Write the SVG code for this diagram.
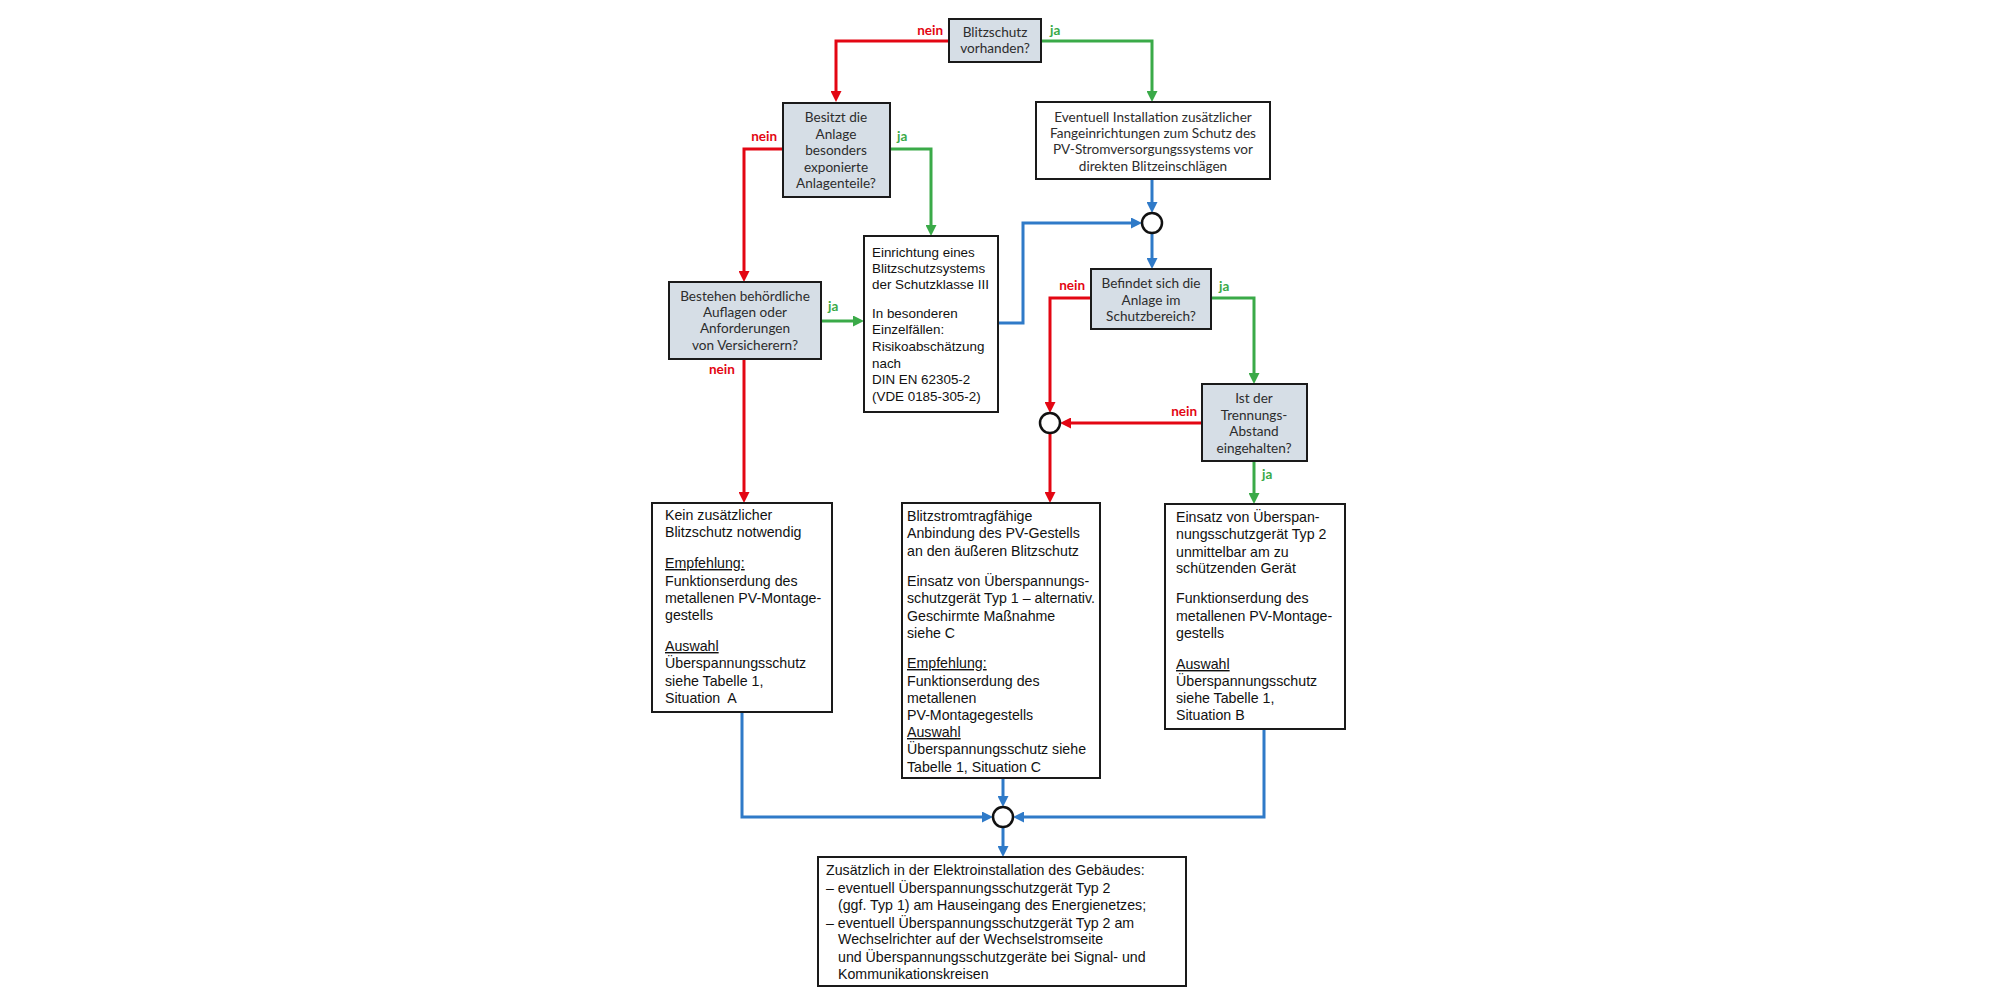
<svg xmlns="http://www.w3.org/2000/svg" width="2000" height="1000" viewBox="0 0 2000 1000">
<style>
.dec{fill:#d6dee6;stroke:#1a1a1a;stroke-width:2}
.box{fill:#ffffff;stroke:#1a1a1a;stroke-width:2}
.dt{font-family:Lato,"Open Sans",sans-serif;font-size:13.6px;fill:#2d2d2d;text-anchor:middle}
.at{font-family:"Liberation Sans",Arial,sans-serif;font-size:14.2px;fill:#111}
.sm{font-size:13.4px}
.u{text-decoration:underline}
.lr{font-family:Lato,"Open Sans",sans-serif;font-weight:bold;font-size:13.5px;fill:#e30613}
.lg{font-family:Lato,"Open Sans",sans-serif;font-weight:bold;font-size:13.5px;fill:#3aaa48}
.c{fill:none;stroke-width:3;stroke-linejoin:miter}
.r{stroke:#e30613}
.g{stroke:#3aaa48}
.b{stroke:#2f7ac8}
.j{fill:#fff;stroke:#111;stroke-width:2.5}
</style>
<defs>
<marker id="ar" markerUnits="userSpaceOnUse" markerWidth="11" markerHeight="11" refX="5" refY="5.5" orient="auto"><path d="M0,0 L11,5.5 L0,11 z" fill="#e30613"/></marker>
<marker id="ag" markerUnits="userSpaceOnUse" markerWidth="11" markerHeight="11" refX="5" refY="5.5" orient="auto"><path d="M0,0 L11,5.5 L0,11 z" fill="#3aaa48"/></marker>
<marker id="ab" markerUnits="userSpaceOnUse" markerWidth="11" markerHeight="11" refX="5" refY="5.5" orient="auto"><path d="M0,0 L11,5.5 L0,11 z" fill="#2f7ac8"/></marker>
</defs>
<rect width="2000" height="1000" fill="#fff"/>
<g id="connectors">
<path class="c r" d="M949,41 H836 V96" marker-end="url(#ar)"/>
<path class="c r" d="M783,149 H744 V276" marker-end="url(#ar)"/>
<path class="c r" d="M744,359 V497" marker-end="url(#ar)"/>
<path class="c r" d="M1091,298 H1050 V407" marker-end="url(#ar)"/>
<path class="c r" d="M1202,423 H1066" marker-end="url(#ar)"/>
<path class="c r" d="M1050,433 V497" marker-end="url(#ar)"/>
<path class="c g" d="M1041,41 H1152 V96" marker-end="url(#ag)"/>
<path class="c g" d="M890,149 H931 V230" marker-end="url(#ag)"/>
<path class="c g" d="M821,321 H858" marker-end="url(#ag)"/>
<path class="c g" d="M1211,298 H1254 V378" marker-end="url(#ag)"/>
<path class="c g" d="M1254,461 V498" marker-end="url(#ag)"/>
<path class="c b" d="M1152,179 V207" marker-end="url(#ab)"/>
<path class="c b" d="M998,323 H1023 V223 H1136" marker-end="url(#ab)"/>
<path class="c b" d="M1152,233 V263" marker-end="url(#ab)"/>
<path class="c b" d="M742,712 V817 H987" marker-end="url(#ab)"/>
<path class="c b" d="M1003,778 V801" marker-end="url(#ab)"/>
<path class="c b" d="M1264,729 V817 H1019" marker-end="url(#ab)"/>
<path class="c b" d="M1003,827 V851" marker-end="url(#ab)"/>
<text class="lr" x="943" y="35" text-anchor="end">nein</text>
<text class="lg" x="1050" y="35">ja</text>
<text class="lr" x="777" y="141" text-anchor="end">nein</text>
<text class="lg" x="897" y="141">ja</text>
<text class="lg" x="828" y="311">ja</text>
<text class="lr" x="709" y="374">nein</text>
<text class="lr" x="1085" y="290" text-anchor="end">nein</text>
<text class="lg" x="1219" y="291">ja</text>
<text class="lr" x="1197" y="416" text-anchor="end">nein</text>
<text class="lg" x="1262" y="479">ja</text>
</g>
<g id="j1"><circle class="j" cx="1152" cy="223" r="10"/></g>
<g id="j2"><circle class="j" cx="1050" cy="423" r="10"/></g>
<g id="j3"><circle class="j" cx="1003" cy="817" r="10"/></g>
<g id="n_blitzschutz">
<rect class="dec" x="949" y="19" width="92" height="43"/>
<text class="dt" x="995" y="37">Blitzschutz</text>
<text class="dt" x="995" y="53">vorhanden?</text>
</g>
<g id="n_besitzt">
<rect class="dec" x="783" y="103" width="107" height="94"/>
<text class="dt" x="836" y="122">Besitzt die</text>
<text class="dt" x="836" y="139">Anlage</text>
<text class="dt" x="836" y="155">besonders</text>
<text class="dt" x="836" y="172">exponierte</text>
<text class="dt" x="836" y="188">Anlagenteile?</text>
</g>
<g id="n_eventuell">
<rect class="box" x="1036" y="102" width="234" height="77"/>
<text class="dt" x="1153" y="122">Eventuell Installation zusätzlicher</text>
<text class="dt" x="1153" y="138">Fangeinrichtungen zum Schutz des</text>
<text class="dt" x="1153" y="154">PV-Stromversorgungssystems vor</text>
<text class="dt" x="1153" y="171">direkten Blitzeinschlägen</text>
</g>
<g id="n_bestehen">
<rect class="dec" x="669" y="282" width="152" height="77"/>
<text class="dt" x="745" y="301">Bestehen behördliche</text>
<text class="dt" x="745" y="317">Auflagen oder</text>
<text class="dt" x="745" y="333">Anforderungen</text>
<text class="dt" x="745" y="350">von Versicherern?</text>
</g>
<g id="n_einrichtung">
<rect class="box" x="864" y="236" width="134" height="176"/>
<text class="at sm" x="872" y="257">Einrichtung eines</text>
<text class="at sm" x="872" y="273">Blitzschutzsystems</text>
<text class="at sm" x="872" y="289">der Schutzklasse III</text>
<text class="at sm" x="872" y="318">In besonderen</text>
<text class="at sm" x="872" y="334">Einzelfällen:</text>
<text class="at sm" x="872" y="351">Risikoabschätzung</text>
<text class="at sm" x="872" y="368">nach</text>
<text class="at sm" x="872" y="384">DIN EN 62305-2</text>
<text class="at sm" x="872" y="401">(VDE 0185-305-2)</text>
</g>
<g id="n_befindet">
<rect class="dec" x="1091" y="269" width="120" height="60"/>
<text class="dt" x="1151" y="288">Befindet sich die</text>
<text class="dt" x="1151" y="305">Anlage im</text>
<text class="dt" x="1151" y="321">Schutzbereich?</text>
</g>
<g id="n_ist">
<rect class="dec" x="1202" y="384" width="105" height="77"/>
<text class="dt" x="1254" y="403">Ist der</text>
<text class="dt" x="1254" y="420">Trennungs-</text>
<text class="dt" x="1254" y="436">Abstand</text>
<text class="dt" x="1254" y="453">eingehalten?</text>
</g>
<g id="n_kein">
<rect class="box" x="652" y="503" width="180" height="209"/>
<text class="at" x="665" y="520">Kein zusätzlicher</text>
<text class="at" x="665" y="537">Blitzschutz notwendig</text>
<text class="at u" x="665" y="568">Empfehlung:</text>
<text class="at" x="665" y="586">Funktionserdung des</text>
<text class="at" x="665" y="603">metallenen PV-Montage-</text>
<text class="at" x="665" y="620">gestells</text>
<text class="at u" x="665" y="651">Auswahl</text>
<text class="at" x="665" y="668">Überspannungsschutz</text>
<text class="at" x="665" y="686">siehe Tabelle 1,</text>
<text class="at" x="665" y="703">Situation&#160; A</text>
</g>
<g id="n_blitzstrom">
<rect class="box" x="902" y="503" width="198" height="275"/>
<text class="at" x="907" y="521">Blitzstromtragfähige</text>
<text class="at" x="907" y="538">Anbindung des PV-Gestells</text>
<text class="at" x="907" y="556">an den äußeren Blitzschutz</text>
<text class="at" x="907" y="586">Einsatz von Überspannungs-</text>
<text class="at" x="907" y="603">schutzgerät Typ 1 – alternativ.</text>
<text class="at" x="907" y="621">Geschirmte Maßnahme</text>
<text class="at" x="907" y="638">siehe C</text>
<text class="at u" x="907" y="668">Empfehlung:</text>
<text class="at" x="907" y="686">Funktionserdung des</text>
<text class="at" x="907" y="703">metallenen</text>
<text class="at" x="907" y="720">PV-Montagegestells</text>
<text class="at u" x="907" y="737">Auswahl</text>
<text class="at" x="907" y="754">Überspannungsschutz siehe</text>
<text class="at" x="907" y="772">Tabelle 1, Situation C</text>
</g>
<g id="n_einsatz">
<rect class="box" x="1165" y="504" width="180" height="225"/>
<text class="at" x="1176" y="522">Einsatz von Überspan-</text>
<text class="at" x="1176" y="539">nungsschutzgerät Typ 2</text>
<text class="at" x="1176" y="557">unmittelbar am zu</text>
<text class="at" x="1176" y="573">schützenden Gerät</text>
<text class="at" x="1176" y="603">Funktionserdung des</text>
<text class="at" x="1176" y="621">metallenen PV-Montage-</text>
<text class="at" x="1176" y="638">gestells</text>
<text class="at u" x="1176" y="669">Auswahl</text>
<text class="at" x="1176" y="686">Überspannungsschutz</text>
<text class="at" x="1176" y="703">siehe Tabelle 1,</text>
<text class="at" x="1176" y="720">Situation B</text>
</g>
<g id="n_zusaetzlich">
<rect class="box" x="818" y="857" width="368" height="129"/>
<text class="at" x="826" y="875">Zusätzlich in der Elektroinstallation des Gebäudes:</text>
<text class="at" x="826" y="893">– eventuell Überspannungsschutzgerät Typ 2</text>
<text class="at" x="838" y="910">(ggf. Typ 1) am Hauseingang des Energienetzes;</text>
<text class="at" x="826" y="928">– eventuell Überspannungsschutzgerät Typ 2 am</text>
<text class="at" x="838" y="944">Wechselrichter auf der Wechselstromseite</text>
<text class="at" x="838" y="962">und Überspannungsschutzgeräte bei Signal- und</text>
<text class="at" x="838" y="979">Kommunikationskreisen</text>
</g>
</svg>
